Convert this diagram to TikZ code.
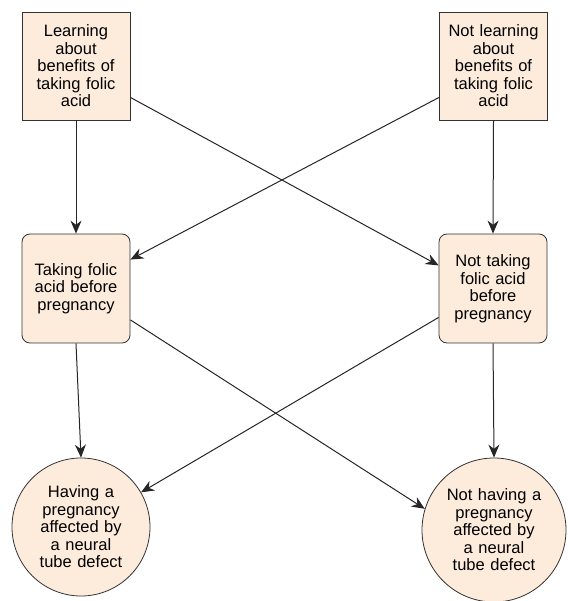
\documentclass[tikz,border=0pt]{standalone}
\usepackage{fontspec}
\setmainfont{Liberation Sans}
\usepackage{tikz}
\usetikzlibrary{arrows.meta}
\definecolor{fapeach}{RGB}{253,236,220}
\definecolor{faedge}{RGB}{50,50,50}

\begin{document}
\begin{tikzpicture}[x=1pt,y=-1pt,
    every node/.style={font=\fontsize{16.5}{17.5}\selectfont},
    choice/.style={draw=faedge, fill=fapeach, thick, minimum width=108pt, minimum height=108pt, text width=104pt, align=center, inner sep=0pt},
    act/.style={choice, rounded corners=8pt, minimum height=109pt},
    outcome/.style={draw=faedge, fill=fapeach, thick, circle, text width=106pt, align=center, inner sep=0pt},
    flow/.style={-{Stealth[length=13pt,width=11pt]}, line width=1pt, draw=black!85}]
    \useasboundingbox (0,0) rectangle (567,601);

    % Learning
    \node[choice] (learn) at (76,66) {Learning\\about\\benefits of\\taking folic\\acid};
    \node[choice] (nolearn) at (493.5,66) {Not learning\\about\\benefits of\\taking folic\\acid};

    % Taking
    \node[act] (take) at (76,288.5) {Taking folic\\acid before\\pregnancy};
    \node[act] (notake) at (493,288.5) {Not taking\\folic acid\\before\\pregnancy};

    % Outcomes
    \node[outcome, minimum size=138pt] (ntd) at (81,527) {Having a\\pregnancy\\affected by\\a neural\\tube defect};
    \node[outcome, minimum size=144pt] (nontd) at (494,530) {Not having a\\pregnancy\\affected by\\a neural\\tube defect};

    % Arrows
    \draw[flow] (learn.south) -- (take.north);
    \draw[flow] (learn.-30) -- (notake.157);
    \draw[flow] (nolearn.-150) -- (take.28);
    \draw[flow] (nolearn.south) -- (notake.north);
    \draw[flow] (take.south) -- (ntd.north);
    \draw[flow] (take.-30) -- (nontd.163);
    \draw[flow] (notake.-152) -- (ntd.30);
    \draw[flow] (notake.south) -- (nontd.north);
\end{tikzpicture}
\end{document}
